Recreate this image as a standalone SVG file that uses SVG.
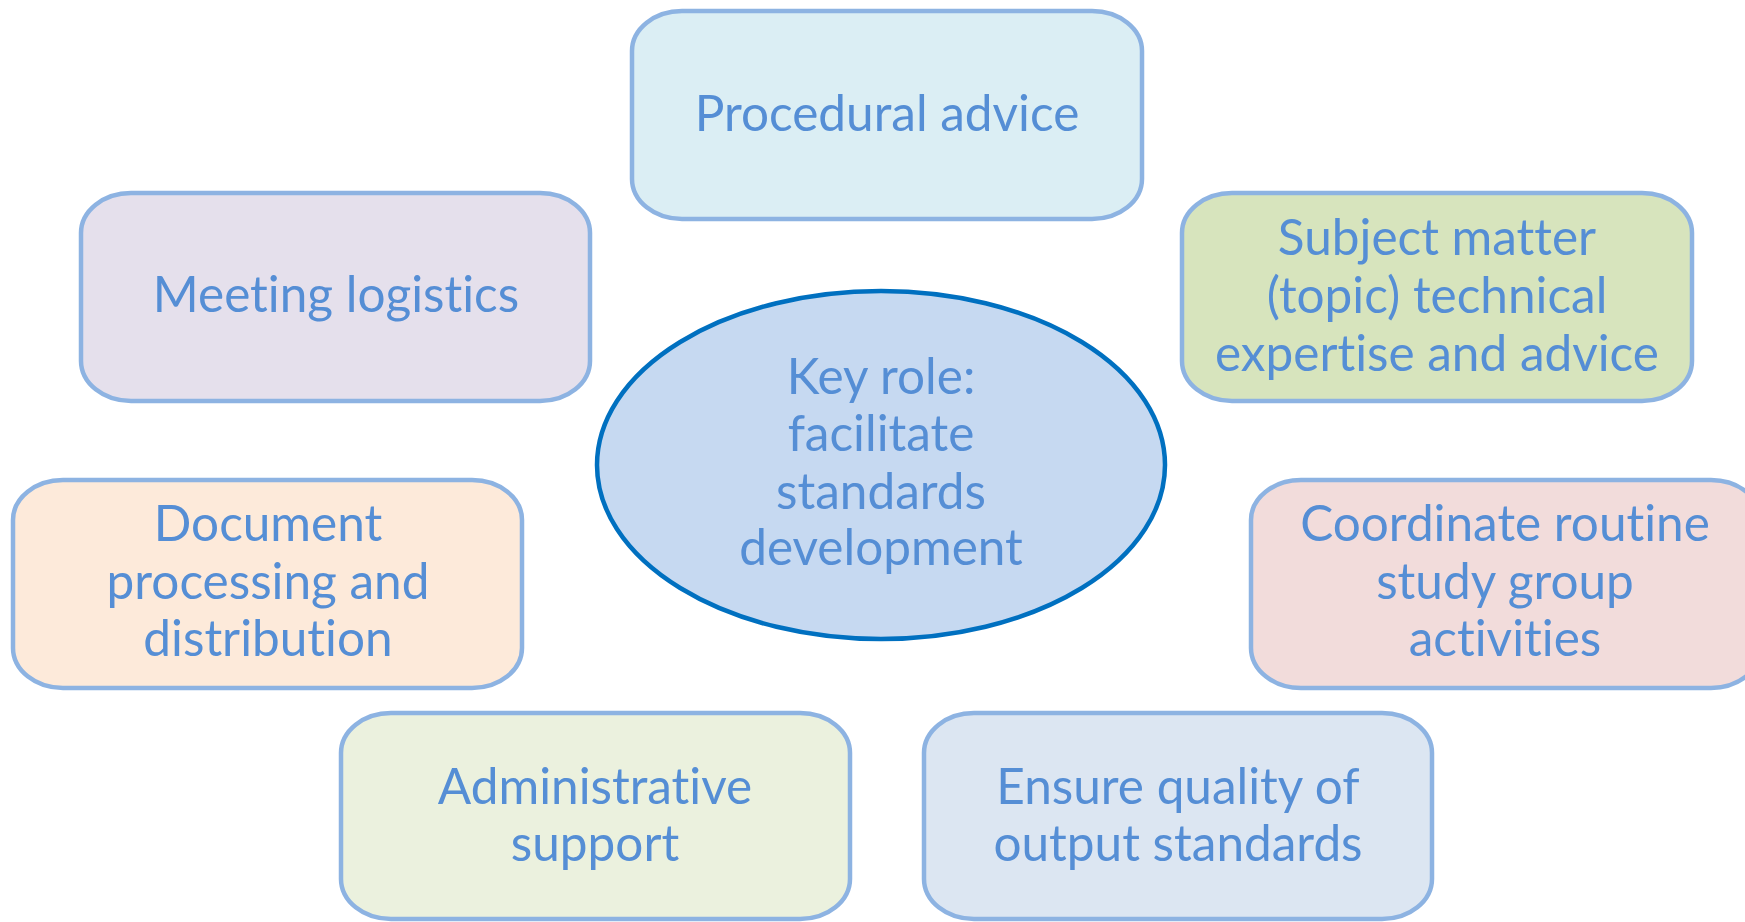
<svg xmlns="http://www.w3.org/2000/svg" width="1745" height="922" viewBox="0 0 1745 922">
<style>
.box{stroke:#8DB3E2;stroke-width:4.5}
.t{font-family:Lato,"Liberation Sans",sans-serif;font-size:49.5px;fill:#558ED5;text-anchor:middle;font-variant-ligatures:none;font-feature-settings:"liga" 0}
</style>
<rect width="1745" height="922" fill="#FFFFFF"/>
<g id="connectors"></g>
<g id="procedural"><rect class="box" x="632" y="11" width="510" height="208" rx="50" ry="40" fill="#DBEEF4"/><text class="t" x="887" y="131">Procedural advice</text></g>
<g id="meeting"><rect class="box" x="81" y="193" width="509" height="208" rx="50" ry="40" fill="#E5E0EC"/><text class="t" x="336" y="312">Meeting logistics</text></g>
<g id="subject"><rect class="box" x="1182" y="193" width="510" height="208" rx="50" ry="40" fill="#D7E4BD"/><text class="t" x="1437" y="255">Subject matter</text><text class="t" x="1437" y="313">(topic) technical</text><text class="t" x="1437" y="371">expertise and advice</text></g>
<g id="document"><rect class="box" x="13" y="480" width="509" height="208" rx="50" ry="40" fill="#FDEADA"/><text class="t" x="268" y="541">Document</text><text class="t" x="268" y="599">processing and</text><text class="t" x="268" y="656">distribution</text></g>
<g id="coordinate"><rect class="box" x="1251" y="480" width="510" height="208" rx="50" ry="40" fill="#F2DCDB"/><text class="t" x="1505" y="541">Coordinate routine</text><text class="t" x="1505" y="599">study group</text><text class="t" x="1505" y="656">activities</text></g>
<g id="administrative"><rect class="box" x="341" y="713" width="509" height="206" rx="50" ry="40" fill="#EBF1DE"/><text class="t" x="595" y="804">Administrative</text><text class="t" x="595" y="861">support</text></g>
<g id="ensure"><rect class="box" x="924" y="713" width="508" height="206" rx="50" ry="40" fill="#DCE6F2"/><text class="t" x="1178" y="804">Ensure quality of</text><text class="t" x="1178" y="861">output standards</text></g>
<g id="keyrole"><ellipse cx="881" cy="465" rx="284" ry="174" fill="#C6D9F1" stroke="#0070C0" stroke-width="4.5"/><text class="t" x="881" y="394">Key role:</text><text class="t" x="881" y="451">facilitate</text><text class="t" x="881" y="509">standards</text><text class="t" x="881" y="565">development</text></g>
</svg>
